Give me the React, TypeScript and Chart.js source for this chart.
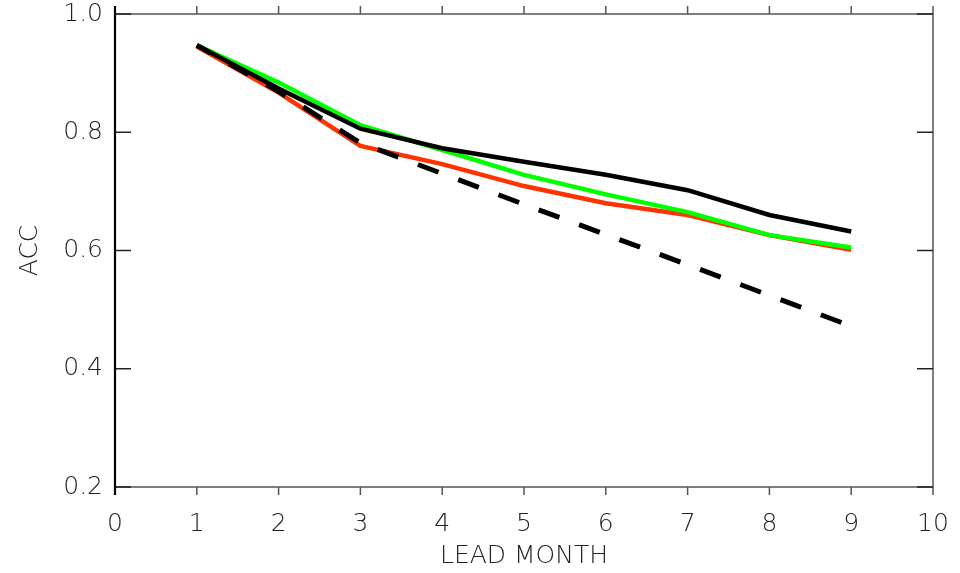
import React, { useEffect, useRef } from "react";
import { Chart, registerables } from "chart.js";

Chart.register(...registerables);

const leadMonths = [1, 2, 3, 4, 5, 6, 7, 8, 9];
const blackSolid = [0.947, 0.874, 0.806, 0.773, 0.75, 0.728, 0.702, 0.66, 0.632];
const greenLine = [0.947, 0.884, 0.812, 0.77, 0.728, 0.695, 0.665, 0.626, 0.605];
const redLine = [0.945, 0.867, 0.777, 0.746, 0.709, 0.68, 0.66, 0.626, 0.601];
const blackDashed = [0.947, 0.869, 0.782, 0.73, 0.678, 0.627, 0.576, 0.524, 0.472];

const xTickValues = [0, 1, 2, 3, 4, 5, 6, 7, 8, 9, 10];
const yTickValues = [0.2, 0.4, 0.6, 0.8, 1.0];

const FONT = { family: "'DejaVu Sans', Roboto, sans-serif", size: 25, weight: "200" as any };

const framePlugin = {
  id: "framePlugin",
  afterDraw(chart: any) {
    const { ctx, chartArea, scales } = chart;
    const { left, right, top, bottom } = chartArea;
    const x = scales.x;
    const y = scales.y;
    ctx.save();
    ctx.lineCap = "butt";
    ctx.strokeStyle = "#555";
    ctx.lineWidth = 1.5;
    ctx.beginPath();
    ctx.moveTo(left, top);
    ctx.lineTo(right, top);
    ctx.moveTo(left, bottom);
    ctx.lineTo(right, bottom);
    ctx.moveTo(right, top);
    ctx.lineTo(right, bottom);
    ctx.stroke();
    ctx.beginPath();
    for (const v of xTickValues) {
      const px = x.getPixelForValue(v);
      ctx.moveTo(px, top);
      ctx.lineTo(px, top - 8);
      ctx.moveTo(px, bottom);
      ctx.lineTo(px, bottom + 8);
    }
    ctx.stroke();
    ctx.strokeStyle = "#222";
    ctx.beginPath();
    for (const v of yTickValues) {
      const py = y.getPixelForValue(v);
      ctx.moveTo(left, py);
      ctx.lineTo(left + 16, py);
      ctx.moveTo(right, py);
      ctx.lineTo(right - 16, py);
    }
    ctx.stroke();
    ctx.strokeStyle = "#000";
    ctx.lineWidth = 2.2;
    ctx.beginPath();
    ctx.moveTo(left, top - 8);
    ctx.lineTo(left, bottom + 8);
    ctx.stroke();
    ctx.restore();
  },
};

export default function App() {
  const canvasRef = useRef<HTMLCanvasElement | null>(null);

  useEffect(() => {
    const canvas = canvasRef.current;
    if (!canvas) return;
    const toPts = (vals: number[]) => leadMonths.map((m, i) => ({ x: m, y: vals[i] }));
    const chart = new Chart(canvas, {
      type: "line",
      data: {
        datasets: [
          {
            label: "dashed",
            data: toPts(blackDashed),
            borderColor: "#000",
            borderWidth: 5,
            borderDash: [22, 21],
            borderDashOffset: 6,
            pointRadius: 0,
            tension: 0,
            order: 1,
          },
          {
            label: "black",
            data: toPts(blackSolid),
            borderColor: "#000",
            borderWidth: 4.5,
            pointRadius: 0,
            tension: 0,
            order: 2,
          },
          {
            label: "green",
            data: toPts(greenLine),
            borderColor: "#00ff00",
            borderWidth: 4.5,
            pointRadius: 0,
            tension: 0,
            order: 3,
          },
          {
            label: "red",
            data: toPts(redLine),
            borderColor: "#ff3300",
            borderWidth: 4.5,
            pointRadius: 0,
            tension: 0,
            order: 4,
          },
        ],
      },
      options: {
        animation: false,
        responsive: false,
        maintainAspectRatio: false,
        layout: { padding: { top: 14, right: 27, left: 0, bottom: 0 } },
        plugins: { legend: { display: false }, tooltip: { enabled: false } },
        scales: {
          x: {
            type: "linear",
            min: 0,
            max: 10,
            afterFit: (s: any) => {
              s.height = 86;
              s.paddingLeft = 0;
              s.paddingRight = 0;
            },
            afterBuildTicks: (s: any) => {
              s.ticks = xTickValues.map((v) => ({ value: v }));
            },
            grid: { display: false, drawTicks: false },
            border: { display: false },
            ticks: {
              padding: 22,
              color: "#222",
              font: FONT,
              maxRotation: 0,
              callback: (v: any) => String(v),
            },
            title: {
              display: true,
              text: "LEAD MONTH",
              color: "#222",
              font: FONT,
              padding: { top: 0, bottom: 2 },
            },
          },
          y: {
            type: "linear",
            min: 0.2,
            max: 1.0,
            afterFit: (s: any) => {
              s.width = 115;
              s.paddingTop = 0;
              s.paddingBottom = 0;
            },
            afterBuildTicks: (s: any) => {
              s.ticks = yTickValues.map((v) => ({ value: v }));
            },
            grid: { display: false, drawTicks: false },
            border: { display: false },
            ticks: {
              padding: 12,
              color: "#222",
              font: FONT,
              callback: (v: any) => Number(v).toFixed(1),
            },
            title: {
              display: true,
              text: "ACC",
              color: "#222",
              font: FONT,
              padding: { top: 15, bottom: 0 },
            },
          },
        },
      },
      plugins: [framePlugin],
    });
    return () => chart.destroy();
  }, []);

  return (
    <div style={{ position: "absolute", left: 0, top: 0, width: 960, height: 573, background: "#fff" }}>
      <canvas ref={canvasRef} width={960} height={573} style={{ display: "block" }} />
    </div>
  );
}
